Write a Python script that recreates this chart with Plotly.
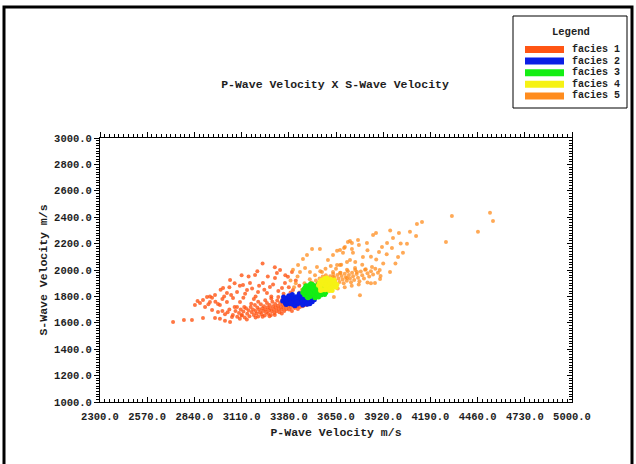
import plotly.graph_objects as go

# ---- facies point clouds: (P-wave velocity, S-wave velocity) in m/s ----
facies1_vp = [2718, 2780, 2826, 2889, 2958, 3044, 2986, 3015,
              2872, 2889, 2912, 2929, 2843, 2858, 2901, 2941, 2958, 2975, 3004, 3044, 3026, 3061, 3084, 3118,
              3141, 3158, 3187, 3204, 3232, 3255, 3272, 3301, 3312, 3341, 3358, 3375, 3398, 3404, 2986, 3026,
              2941, 2975, 3084, 3101, 3055, 3112, 2929, 2990, 3010, 3040, 3070, 3100, 3130, 3170, 3190, 3210,
              3240, 3260, 3290, 3320, 3330, 3350, 3380, 3230, 3300, 3150, 3050, 2960, 2920, 3000, 3120, 3180,
              3280, 3420, 3440, 3390, 3360, 3110, 3200,
              3060, 3075, 3085, 3095, 3105, 3110, 3120, 3128, 3135, 3142, 3150, 3155, 3162, 3168, 3175, 3180,
              3186, 3190, 3196, 3200, 3205, 3210, 3215, 3220, 3224, 3228, 3232, 3238, 3242, 3246, 3250, 3255,
              3258, 3262, 3266, 3270, 3274, 3278, 3282, 3286, 3290, 3294, 3298, 3302, 3306, 3310, 3314, 3318,
              3322, 3326, 3330, 3334, 3338, 3342, 3346, 3350, 3354, 3358, 3362, 3366, 3370, 3374, 3378, 3382,
              3386, 3390, 3394, 3398, 3402, 3408, 3414, 3420, 3426, 3432, 3438, 3444, 3452, 3460, 3470, 3480,
              3490, 3500, 3125, 3165, 3205, 3245, 3280, 3320, 3190, 3230, 3270, 3300, 3340, 3100, 3140, 3070,
              3030, 3040, 3015, 3000]
facies1_vs = [1606, 1622, 1622, 1637, 1637, 1606, 1630, 1615,
              1750, 1773, 1796, 1758, 1735, 1765, 1720, 1790, 1810, 1742, 1864, 1925, 1826, 1788, 1834, 1887,
              1849, 1902, 1963, 1834, 1902, 1826, 1872, 1940, 1978, 1864, 1902, 1948, 1985, 1849, 1735, 1758,
              1697, 1682, 1720, 1758, 1644, 1659, 1800, 1850, 1800, 1870, 1900, 1880, 1820, 1860, 1800, 1880,
              1850, 1950, 1890, 1840, 2000, 1820, 1870, 2050, 2020, 1950, 1810, 1760, 1740, 1780, 1790, 1780,
              1800, 1920, 1880, 1830, 1960, 1960, 1990,
              1660, 1690, 1645, 1675, 1700, 1655, 1685, 1640, 1710, 1668, 1695, 1650, 1720, 1680, 1700, 1660,
              1735, 1690, 1670, 1715, 1648, 1700, 1680, 1740, 1665, 1710, 1690, 1725, 1655, 1700, 1680, 1750,
              1718, 1668, 1695, 1735, 1710, 1660, 1688, 1760, 1725, 1700, 1675, 1742, 1715, 1690, 1768, 1730,
              1705, 1680, 1750, 1722, 1698, 1775, 1740, 1715, 1690, 1760, 1732, 1705, 1785, 1750, 1725, 1700,
              1770, 1742, 1718, 1690, 1760, 1735, 1712, 1750, 1725, 1705, 1745, 1720, 1740, 1725, 1745, 1735,
              1760, 1748, 1720, 1745, 1760, 1770, 1785, 1795, 1640, 1645, 1650, 1660, 1670, 1630, 1625, 1720,
              1680, 1700, 1665, 1690]

facies2_vp = [3345, 3355, 3360, 3368, 3372, 3378, 3385, 3388, 3395, 3398, 3405, 3408, 3412, 3418, 3422, 3426,
              3430, 3434, 3438, 3442, 3446, 3450, 3455, 3458, 3462, 3466, 3470, 3474, 3478, 3482, 3486, 3490,
              3494, 3498, 3502, 3506, 3510, 3514, 3518, 3522, 3526, 3530, 3380, 3400, 3350, 3365, 3415, 3460,
              3500, 3535, 3440, 3470, 3392, 3427, 3485]
facies2_vs = [1765, 1780, 1750, 1772, 1790, 1758, 1745, 1778, 1800, 1762, 1738, 1785, 1770, 1752, 1798, 1778,
              1742, 1762, 1790, 1805, 1770, 1750, 1785, 1765, 1800, 1745, 1778, 1760, 1795, 1812, 1772, 1755,
              1788, 1805, 1768, 1782, 1798, 1760, 1790, 1810, 1775, 1795, 1805, 1815, 1795, 1738, 1730, 1735,
              1745, 1815, 1820, 1818, 1750, 1755, 1740]

facies3_vp = [3460, 3465, 3470, 3475, 3480, 3485, 3488, 3492, 3496, 3500, 3504, 3508, 3512, 3516, 3520, 3524,
              3528, 3532, 3536, 3540, 3544, 3548, 3552, 3556, 3560, 3564, 3568, 3572, 3576, 3580, 3584, 3588,
              3592, 3596, 3478, 3490, 3530, 3505, 3550, 3470, 3515, 3545, 3500, 3560, 3585]
facies3_vs = [1830, 1850, 1812, 1868, 1835, 1795, 1855, 1880, 1820, 1845, 1800, 1870, 1828, 1890, 1850, 1810,
              1865, 1835, 1795, 1880, 1850, 1820, 1898, 1862, 1835, 1810, 1878, 1848, 1825, 1868, 1842, 1885,
              1830, 1858, 1880, 1790, 1790, 1895, 1795, 1860, 1870, 1838, 1825, 1878, 1815]

facies4_vp = [3550, 3556, 3560, 3565, 3570, 3575, 3580, 3585, 3590, 3595, 3600, 3604, 3608, 3612, 3616, 3620,
              3625, 3630, 3635, 3640, 3645, 3650, 3655, 3562, 3588, 3618, 3640, 3598, 3572, 3628]
facies4_vs = [1885, 1905, 1868, 1920, 1890, 1850, 1910, 1935, 1875, 1898, 1860, 1922, 1885, 1845, 1905, 1930,
              1870, 1895, 1915, 1880, 1900, 1870, 1890, 1845, 1850, 1862, 1925, 1940, 1925, 1845]

facies5_vp = [3440, 3455, 3465, 3475, 3485, 3495, 3505, 3512, 3520, 3528, 3535, 3542, 3550, 3556, 3562, 3568,
              3574, 3580, 3586, 3592, 3598, 3604, 3610, 3616, 3622, 3628, 3634, 3640, 3646, 3652, 3658, 3664,
              3670, 3676, 3682, 3688, 3694, 3700, 3706, 3712, 3718, 3724, 3730, 3736, 3742, 3748, 3754, 3760,
              3768, 3776, 3784, 3792, 3800, 3810, 3820, 3830, 3840, 3850, 3862, 3875, 3890, 3905, 3660, 3700,
              3740, 3620, 3580, 3780, 3830, 3470, 3500, 3530, 3560, 3590, 3620, 3650, 3680,
              3638, 3787, 3902, 3873, 3856, 3816, 3827, 3804, 3776, 3781, 3730, 3741, 3696, 3690, 3656, 3730,
              3673, 3633, 3759, 3713, 3959, 3970, 3942, 3913, 3896, 3879, 3862, 3976, 4005, 4010, 4033, 4056,
              4073, 4108, 4113, 4142, 4279, 4313, 4462, 4531, 4548, 3513, 3558, 3484, 3461, 3433, 3404, 3444,
              3473, 3501, 3541, 3570, 3604, 3633, 3673, 3701, 3718, 3741, 3747, 3713, 3656, 3673, 3633, 3713,
              3770, 3420, 3410, 3430, 3390, 3850, 3920, 3880, 3940, 3990, 4020, 3830, 3960, 3850, 3900, 3760,
              3800]
facies5_vs = [1830, 1850, 1815, 1870, 1840, 1885, 1860, 1905, 1878, 1845, 1920, 1895, 1868, 1935, 1910, 1880,
              1950, 1925, 1895, 1960, 1938, 1910, 1880, 1952, 1925, 1900, 1970, 1945, 1918, 1890, 1962, 1935,
              1910, 1980, 1955, 1928, 1900, 1972, 1945, 1918, 1990, 1962, 1935, 1908, 1980, 1952, 1925, 2000,
              1970, 1942, 1915, 1988, 1960, 1935, 2005, 1975, 1950, 1990, 1965, 2010, 1980, 1955, 1860, 1870,
              1880, 1850, 1835, 1890, 1905, 1900, 1930, 1960, 1990, 2010, 2030, 2010, 2040,
              1796, 1808, 1932, 1902, 2023, 2001, 2205, 2099, 2228, 2190, 2220, 2160, 2167, 2130, 2145, 2076,
              2038, 1985, 2016, 2001, 1985, 2167, 2205, 2175, 2137, 2281, 2266, 2243, 2099, 2281, 2130, 2198,
              2289, 2258, 2349, 2364, 2213, 2410, 2289, 2433, 2372, 2160, 2160, 2114, 2084, 2038, 2001, 1985,
              2016, 1985, 2023, 1985, 2076, 2114, 2152, 2175, 2213, 2205, 2130, 2061, 2038, 1978, 1947, 1940,
              1985, 1900, 1870, 1950, 1920, 2100, 2050, 2080, 2120, 2050, 2200, 2150, 2300, 1900, 2000, 2060,
              2040]

facies_names = ["facies 1", "facies 2", "facies 3", "facies 4", "facies 5"]
facies_colors = ["#ff5514", "#0a1ee6", "#14ee14", "#f6f214", "#ff8c1e"]

x_ticks = [2300.0, 2570.0, 2840.0, 3110.0, 3380.0, 3650.0, 3920.0, 4190.0, 4460.0, 4730.0, 5000.0]
y_ticks = [1000.0, 1200.0, 1400.0, 1600.0, 1800.0, 2000.0, 2200.0, 2400.0, 2600.0, 2800.0, 3000.0]

FONT = "Liberation Mono"
TXT = "#1e1e1e"
W, H = 636, 464
L, R, T, B = 100, 64, 138, 62          # plot area: x 100..572, y 138..402
PW, PH = W - L - R, H - T - B


def px(x):
    return (x - L) / PW


def py(y):
    return (H - B - y) / PH


series = [
    (facies1_vp, facies1_vs, 0, 4, 0.8),
    (facies5_vp, facies5_vs, 4, 4, 0.75),
    (facies2_vp, facies2_vs, 1, 5, 1.0),
    (facies3_vp, facies3_vs, 2, 5, 1.0),
    (facies4_vp, facies4_vs, 3, 5, 1.0),
]

fig = go.Figure()
for xs, ys, k, size, op in series:
    fig.add_trace(go.Scatter(
        x=xs, y=ys, mode="markers", name=facies_names[k], showlegend=False,
        marker=dict(color=facies_colors[k], size=size, opacity=op, line=dict(width=0)),
    ))

# invisible trace hosting the secondary (top / right) axes
fig.add_trace(go.Scatter(x=[x_ticks[0]], y=[y_ticks[0]], xaxis="x2", yaxis="y2",
                         mode="markers", marker=dict(opacity=0), showlegend=False, hoverinfo="skip"))

tick_font = dict(family=FONT, size=10.5, color=TXT, weight="bold")
label_font = dict(family=FONT, size=11.5, color=TXT, weight="bold")
axis_common = dict(showgrid=False, zeroline=False, showline=True, linecolor="black", linewidth=1,
                   tickcolor="black", ticklen=5, tickwidth=1)

fig.update_layout(
    width=W, height=H,
    margin=dict(l=L, r=R, t=T, b=B),
    paper_bgcolor="white", plot_bgcolor="white",
    title=dict(text="P-Wave Velocity X S-Wave Velocity", x=px(335), xref="paper", xanchor="center",
               y=1 - 84 / H, yref="container", yanchor="middle", font=label_font),
    xaxis=dict(range=[2300, 5000], tickvals=x_ticks, ticktext=[f"{v:.1f}" for v in x_ticks],
               ticks="inside", tickfont=tick_font, ticklabelstandoff=4,
               minor=dict(dtick=27, tick0=2300, ticks="inside", ticklen=3, tickcolor="black"),
               title=dict(text="P-Wave Velocity m/s", font=label_font, standoff=6),
               **axis_common),
    yaxis=dict(range=[1000, 3000], tickvals=y_ticks, ticktext=[f"{v:.1f}" for v in y_ticks],
               ticks="outside", tickfont=tick_font,
               minor=dict(dtick=20, tick0=1000, ticks="outside", ticklen=3, tickcolor="black"),
               title=dict(text="S-Wave Velocity m/s", font=label_font, standoff=4),
               **axis_common),
    xaxis2=dict(range=[2300, 5000], overlaying="x", side="top", tickvals=x_ticks, showticklabels=False,
                ticks="outside",
                minor=dict(dtick=27, tick0=2300, ticks="outside", ticklen=3, tickcolor="black"),
                **axis_common),
    yaxis2=dict(range=[1000, 3000], overlaying="y", side="right", tickvals=y_ticks, showticklabels=False,
                ticks="inside",
                minor=dict(dtick=20, tick0=1000, ticks="inside", ticklen=3, tickcolor="black"),
                **axis_common),
)

# page frame
fig.add_shape(type="rect", xref="paper", yref="paper",
              x0=px(4), x1=px(632), y0=py(475), y1=py(7),
              line=dict(color="black", width=3), fillcolor="rgba(0,0,0,0)", layer="above")

# legend box
fig.add_shape(type="rect", xref="paper", yref="paper",
              x0=px(513), x1=px(627), y0=py(108), y1=py(16),
              line=dict(color="black", width=1), fillcolor="white", layer="above")
fig.add_annotation(x=px(571), y=py(32), xref="paper", yref="paper", text="Legend", showarrow=False,
                   xanchor="center", yanchor="middle",
                   font=dict(family=FONT, size=10.5, color=TXT, weight="bold"))
for i, (name, col) in enumerate(zip(facies_names, facies_colors)):
    yc = 49.5 + i * 11.6
    fig.add_shape(type="rect", xref="paper", yref="paper",
                  x0=px(525), x1=px(564), y0=py(yc + 3.5), y1=py(yc - 3.5),
                  line=dict(width=0), fillcolor=col, layer="above")
    fig.add_annotation(x=px(570), y=py(yc), xref="paper", yref="paper", text=name, showarrow=False,
                       xanchor="left", yanchor="middle",
                       font=dict(family=FONT, size=10, color=TXT, weight="bold"))

fig.write_html("out.html")
